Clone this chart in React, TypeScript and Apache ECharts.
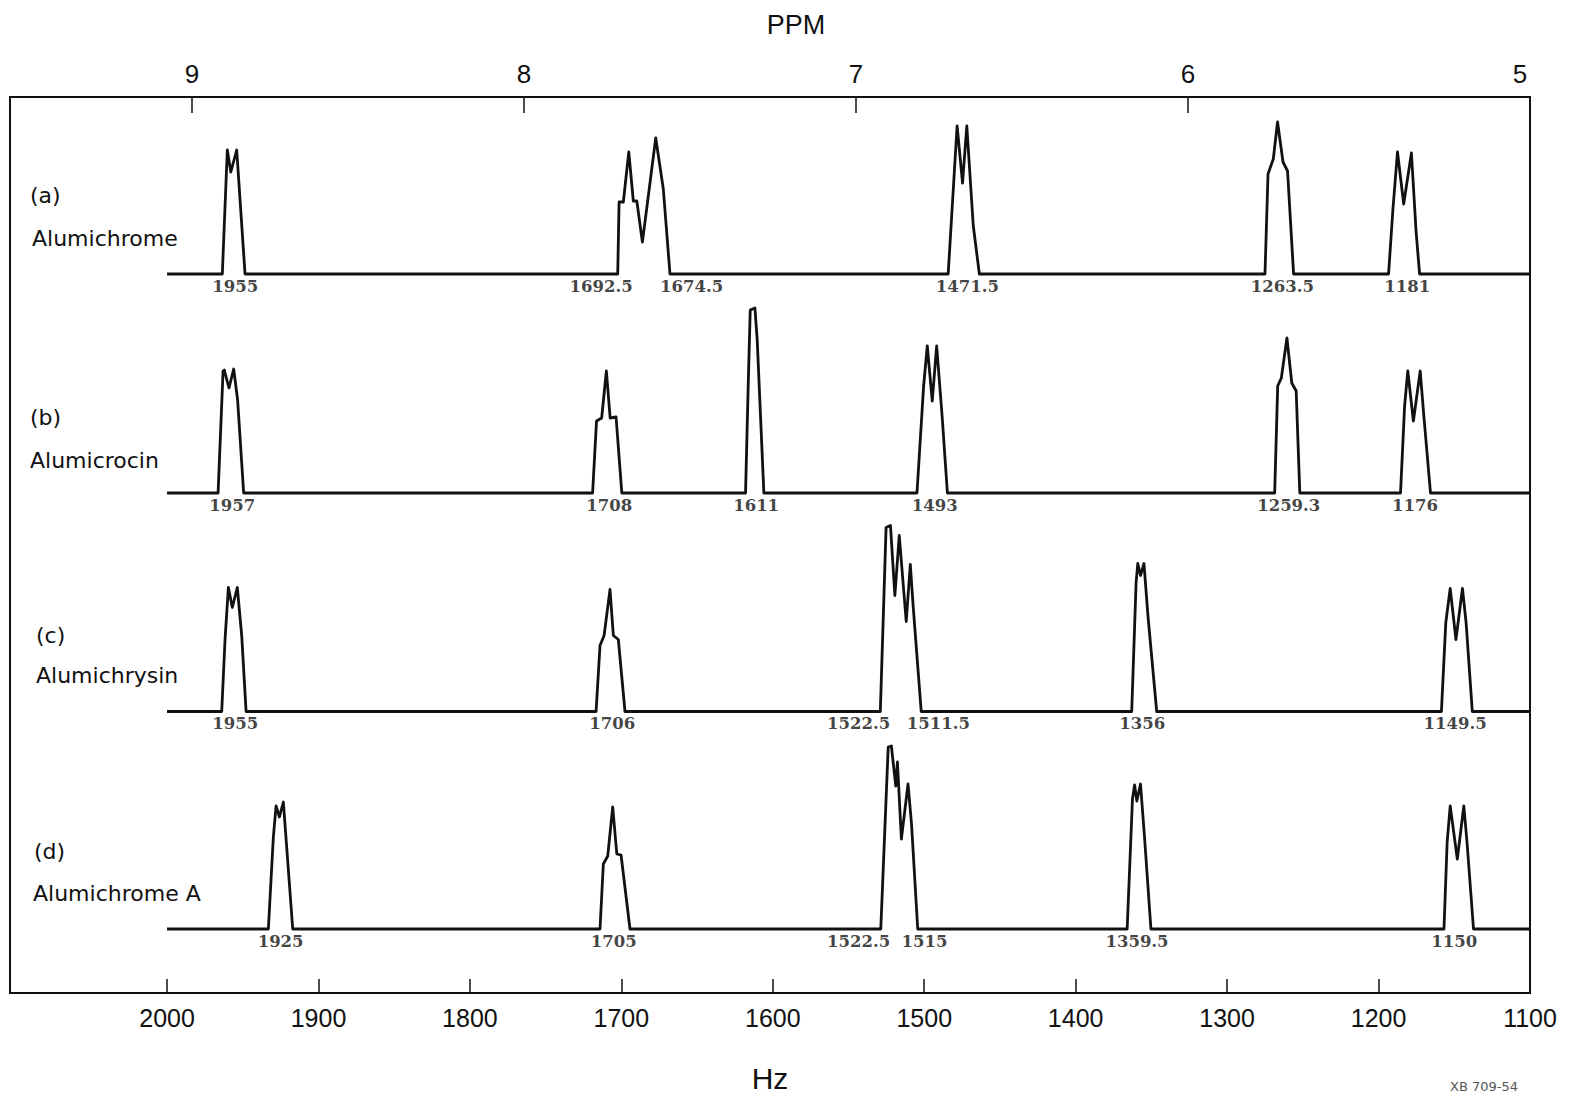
import React, { useEffect, useRef } from "react";
import * as echarts from "echarts";

const W = 1571;
const H = 1097;

// Axis ticks / labels
const hzTickValues = [2000, 1900, 1800, 1700, 1600, 1500, 1400, 1300, 1200];
const hzLabelValues = [2000, 1900, 1800, 1700, 1600, 1500, 1400, 1300, 1200, 1100];
const ppmTickValues = [9, 8, 7, 6];
const ppmLabelValues = [9, 8, 7, 6, 5];

const sampleTags = ["(a)", "(b)", "(c)", "(d)"];
const sampleNames = ["Alumichrome", "Alumicrocin", "Alumichrysin", "Alumichrome A"];

// Spectrum traces: [Hz, relative intensity]
const traceA: number[][] = [
  [2000, 0],
  [1963.5, 0], [1960.2, 124], [1957.9, 102], [1954.0, 124], [1948.5, 0],
  [1702.4, 0], [1701.5, 72], [1698.7, 72], [1695.1, 122], [1692.1, 73], [1689.8, 73], [1686.1, 32], [1677.3, 136], [1672.3, 85], [1667.9, 0],
  [1484.2, 0], [1478.3, 148], [1474.7, 91], [1471.9, 148], [1467.6, 48], [1463.6, 0],
  [1275.0, 0], [1273.0, 100], [1269.5, 115], [1266.7, 152], [1263.1, 112], [1260.1, 103], [1256.1, 0],
  [1193.4, 0], [1190.5, 65], [1187.5, 122], [1183.4, 70], [1178.3, 121], [1175.2, 42], [1172.9, 0],
  [1100, 0],
];
const traceB: number[][] = [
  [2000, 0],
  [1966.3, 0], [1963.0, 122], [1962.2, 123], [1959.1, 105], [1956.0, 124], [1953.4, 93], [1949.4, 0],
  [1719.0, 0], [1716.4, 72], [1713.0, 75], [1709.9, 122], [1707.4, 75], [1703.5, 76], [1699.7, 0],
  [1618.0, 0], [1616.2, 110], [1614.9, 183], [1611.8, 185], [1610.3, 153], [1605.9, 0],
  [1504.8, 0], [1500.4, 107], [1498.0, 147], [1494.7, 92], [1491.8, 147], [1488.2, 77], [1484.7, 0],
  [1268.6, 0], [1266.6, 107], [1264.2, 115], [1260.5, 155], [1257.3, 110], [1254.4, 102], [1252.0, 0],
  [1185.5, 0], [1182.8, 87], [1180.7, 122], [1177.0, 72], [1172.5, 122], [1170.1, 77], [1165.7, 0],
  [1100, 0],
];
const traceC: number[][] = [
  [2000, 0],
  [1963.9, 0], [1961.7, 72], [1959.5, 124], [1956.9, 104], [1953.6, 124], [1950.7, 76], [1947.8, 0],
  [1716.7, 0], [1714.1, 66], [1711.4, 76], [1707.5, 122], [1705.3, 76], [1702.0, 72], [1697.6, 0],
  [1529.0, 0], [1525.2, 184], [1522.3, 186], [1519.4, 116], [1516.5, 176], [1511.9, 90], [1509.2, 147], [1507.2, 103], [1502.0, 0],
  [1363.0, 0], [1360.1, 129], [1359.0, 148], [1357.2, 136], [1354.9, 148], [1352.3, 96], [1346.5, 0],
  [1158.5, 0], [1155.6, 89], [1152.7, 123], [1148.9, 72], [1144.6, 123], [1142.2, 89], [1138.1, 0],
  [1100, 0],
];
const traceD: number[][] = [
  [2000, 0],
  [1933.1, 0], [1929.8, 92], [1928.0, 123], [1925.8, 112], [1923.2, 127], [1921.0, 82], [1917.0, 0],
  [1714.1, 0], [1711.9, 65], [1709.0, 73], [1705.7, 122], [1703.0, 75], [1700.2, 74], [1694.3, 0],
  [1528.7, 0], [1523.8, 182], [1521.7, 183], [1518.8, 143], [1517.7, 167], [1515.1, 90], [1510.7, 145], [1508.4, 105], [1504.3, 0],
  [1366.0, 0], [1362.5, 130], [1361.1, 144], [1359.6, 128], [1357.2, 145], [1354.6, 93], [1350.3, 0],
  [1156.8, 0], [1154.7, 87], [1152.7, 123], [1148.0, 70], [1143.7, 123], [1141.6, 87], [1137.3, 0],
  [1100, 0],
];

// Peak labels (Hz)
const labelsA = ["1955", "1692.5", "1674.5", "1471.5", "1263.5", "1181"];
const labelsB = ["1957", "1708", "1611", "1493", "1259.3", "1176"];
const labelsC = ["1955", "1706", "1522.5", "1511.5", "1356", "1149.5"];
const labelsD = ["1925", "1705", "1522.5", "1515", "1359.5", "1150"];

// Layout (vertical baseline offsets of each stacked spectrum, in y-axis units)
const baseOffsets = [719, 500, 281.5, 64];
const tagPos = [
  { x: 30, y: 195, nx: 32, ny: 238 },
  { x: 30, y: 417, nx: 30, ny: 460 },
  { x: 36, y: 635, nx: 36, ny: 675 },
  { x: 34, y: 851, nx: 33, ny: 893 },
];

const INK = "#111";
const AXIS_FONT = "'Liberation Sans', Arial, sans-serif";

function buildOption() {
  const traces = [traceA, traceB, traceC, traceD];
  const labelSets = [labelsA, labelsB, labelsC, labelsD];

  const lineSeries = traces.map((tr, i) => ({
    type: "line",
    xAxisIndex: 0,
    yAxisIndex: 0,
    silent: true,
    symbol: "none",
    showSymbol: false,
    data: tr.map(([x, h]) => [x, baseOffsets[i] + h]),
    lineStyle: { color: INK, width: 2.8, join: "round" },
    z: 3,
  }));

  const labelSeries = labelSets.map((labels, i) => ({
    type: "scatter",
    xAxisIndex: 0,
    yAxisIndex: 0,
    silent: true,
    symbolSize: 1,
    itemStyle: { color: "rgba(0,0,0,0)" },
    data: labels.map((t, k) => {
      const v = parseFloat(t);
      const prev = k > 0 ? parseFloat(labels[k - 1]) : null;
      const next = k < labels.length - 1 ? parseFloat(labels[k + 1]) : null;
      let align = "center";
      if (next !== null && Math.abs(v - next) < 25) align = "right";
      else if (prev !== null && Math.abs(v - prev) < 25) align = "left";
      return {
        value: [v, baseOffsets[i]],
        name: t,
        label: { align },
      };
    }),
    label: {
      show: true,
      position: "bottom",
      distance: 3,
      formatter: "{b}",
      color: INK,
      fontFamily: "'DejaVu Serif', serif",
      fontWeight: "bold",
      fontSize: 16.5,
    },
    z: 4,
  }));

  const graphics: any[] = [];
  sampleTags.forEach((tag, i) => {
    graphics.push({
      type: "text",
      x: tagPos[i].x,
      y: tagPos[i].y,
      silent: true,
      style: {
        text: tag,
        fill: INK,
        font: "22px 'DejaVu Sans', sans-serif",
        align: "left",
        verticalAlign: "middle",
      },
    });
    graphics.push({
      type: "text",
      x: tagPos[i].nx,
      y: tagPos[i].ny,
      silent: true,
      style: {
        text: sampleNames[i],
        fill: INK,
        font: "22px 'DejaVu Sans', sans-serif",
        align: "left",
        verticalAlign: "middle",
      },
    });
  });
  graphics.push({
    type: "text",
    x: 796,
    y: 25,
    silent: true,
    style: {
      text: "PPM",
      fill: INK,
      font: "27px 'Liberation Sans', sans-serif",
      align: "center",
      verticalAlign: "middle",
    },
  });
  graphics.push({
    type: "text",
    x: 1450,
    y: 1080,
    silent: true,
    style: {
      text: "XB 709-54",
      fill: "#555",
      font: "13px 'DejaVu Sans', sans-serif",
      align: "left",
      verticalAlign: "top",
    },
  });

  return {
    animation: false,
    backgroundColor: "#fff",
    grid: {
      left: 10,
      right: 41,
      top: 97,
      bottom: 104,
      show: true,
      borderColor: INK,
      borderWidth: 2,
      backgroundColor: "transparent",
      containLabel: false,
      outerBoundsMode: "none",
    },
    xAxis: [
      {
        type: "value",
        position: "bottom",
        min: 1100,
        max: 2103.7,
        inverse: true,
        splitLine: { show: false },
        axisLine: { show: false },
        axisTick: {
          show: true,
          inside: true,
          length: 14,
          customValues: hzTickValues,
          lineStyle: { color: INK, width: 1.5 },
        },
        axisLabel: {
          show: true,
          customValues: hzLabelValues,
          formatter: (v: number) => String(v),
          margin: 12,
          color: INK,
          fontFamily: AXIS_FONT,
          fontSize: 25,
          showMinLabel: true,
          showMaxLabel: true,
        },
        name: "Hz",
        nameLocation: "middle",
        nameGap: 70,
        nameTextStyle: { color: INK, fontFamily: AXIS_FONT, fontSize: 30 },
      },
      {
        type: "value",
        position: "top",
        min: 4.9699,
        max: 9.548,
        inverse: true,
        splitLine: { show: false },
        axisLine: { show: false },
        axisTick: {
          show: true,
          inside: true,
          length: 16,
          customValues: ppmTickValues,
          lineStyle: { color: INK, width: 1.5 },
        },
        axisLabel: {
          show: true,
          customValues: ppmLabelValues,
          formatter: (v: number) => String(v),
          margin: 10,
          color: INK,
          fontFamily: AXIS_FONT,
          fontSize: 26,
          showMinLabel: true,
          showMaxLabel: true,
        },
      },
    ],
    yAxis: {
      type: "value",
      min: 0,
      max: 896,
      show: false,
    },
    series: [...lineSeries, ...labelSeries],
    graphic: graphics,
  };
}

export default function App() {
  const ref = useRef<HTMLDivElement>(null);
  useEffect(() => {
    if (!ref.current) return;
    const chart = echarts.init(ref.current, null, { renderer: "svg", width: W, height: H });
    chart.setOption(buildOption() as any);
    return () => chart.dispose();
  }, []);
  return (
    <div
      ref={ref}
      style={{ position: "absolute", left: 0, top: 0, width: W, height: H, background: "#fff" }}
    />
  );
}
